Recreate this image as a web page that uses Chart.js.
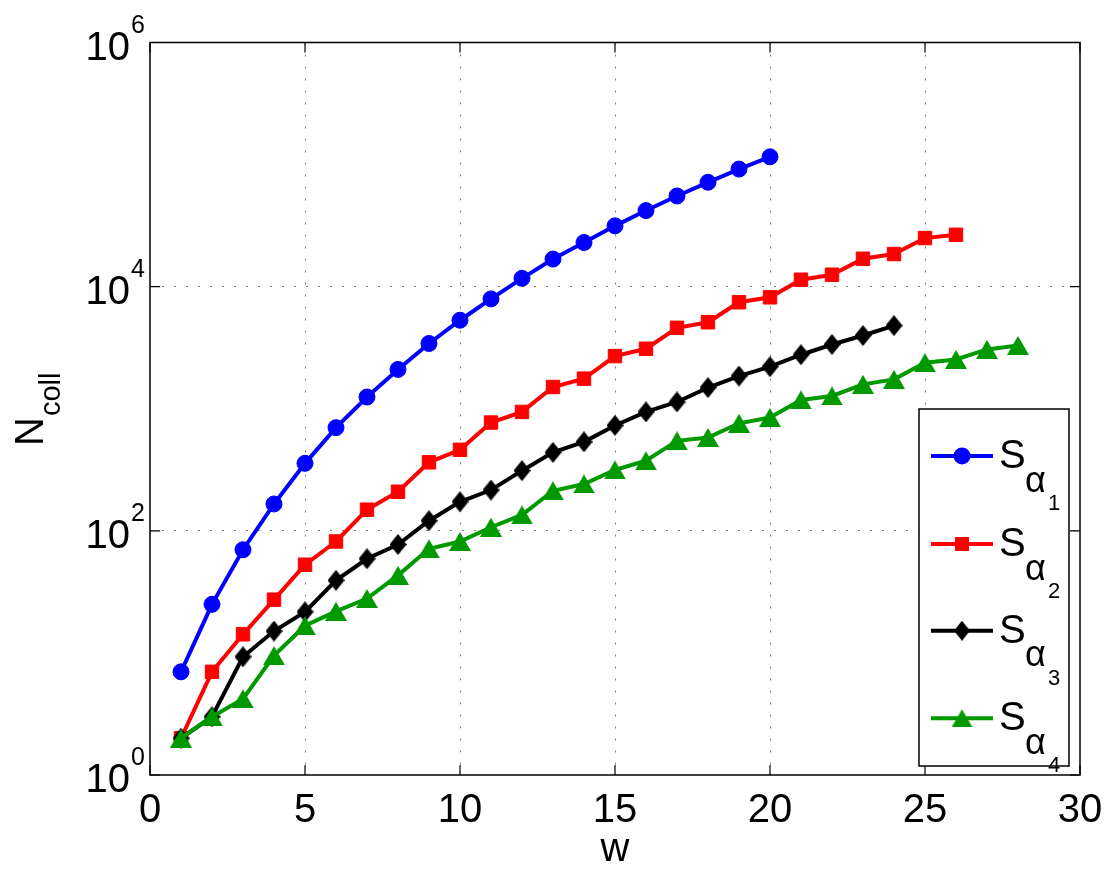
<!DOCTYPE html>
<html>
<head>
<meta charset="utf-8">
<script src="https://cdn.jsdelivr.net/npm/chart.js@4/dist/chart.umd.min.js"></script>
<style>
  html, body { margin: 0; padding: 0; background: #ffffff; }
  canvas { display: block; }
</style>
</head>
<body>
<canvas id="c" width="1111" height="875"></canvas>
<script>
// ---- data ----
const w = [1,2,3,4,5,6,7,8,9,10,11,12,13,14,15,16,17,18,19,20,21,22,23,24,25,26,27,28];
const sAlpha1 = [7, 25, 70, 166, 357, 700, 1248, 2100, 3425, 5310, 7940, 11700, 16830, 23000, 31500, 42000, 55300, 71600, 91900, 115800];
const sAlpha2 = [2, 7, 14.2, 27.3, 52.8, 81.8, 149, 209, 364, 461, 771, 942, 1507, 1765, 2700, 3100, 4600, 5110, 7450, 8180, 11400, 12530, 16930, 18500, 25000, 26600];
const sAlpha3 = [2, 3, 9.3, 15.1, 21.7, 39.3, 59, 77.3, 121, 173, 216, 311, 439, 536, 730, 942, 1137, 1490, 1853, 2210, 2770, 3360, 3980, 4800];
const sAlpha4 = [2, 3, 4.2, 9.5, 16.7, 21.9, 27.9, 43.2, 71.3, 81.8, 107, 135, 213, 242, 315, 375, 546, 582, 760, 848, 1180, 1272, 1585, 1741, 2384, 2536, 3060, 3300];
const seriesNames = ['1', '2', '3', '4'];
const xTickValues = [0, 5, 10, 15, 20, 25, 30];
const yTickExponents = [0, 2, 4, 6];

// ---- styles ----
const colors = ['#0000ff', '#ff0000', '#000000', '#009900'];
const FONT = '"Liberation Sans", Arial, Helvetica, sans-serif';

function makeDiamond(wd, ht, col) {
  const cv = document.createElement('canvas');
  cv.width = wd; cv.height = ht;
  const g = cv.getContext('2d');
  g.fillStyle = col;
  g.beginPath();
  g.moveTo(wd / 2, 0); g.lineTo(wd, ht / 2); g.lineTo(wd / 2, ht); g.lineTo(0, ht / 2);
  g.closePath(); g.fill();
  return cv;
}
function makeTriangle(wd, ht, col) {
  const cv = document.createElement('canvas');
  cv.width = wd; cv.height = ht;
  const g = cv.getContext('2d');
  g.fillStyle = col;
  g.beginPath();
  g.moveTo(wd / 2, 0); g.lineTo(wd, ht); g.lineTo(0, ht);
  g.closePath(); g.fill();
  return cv;
}
const diamondImg = makeDiamond(17, 21, colors[2]);
const triangleImg = makeTriangle(22, 19, colors[3]);
const diamondLeg = makeDiamond(16, 20, colors[2]);
const triangleLeg = makeTriangle(21, 18, colors[3]);

const seriesValues = [sAlpha1, sAlpha2, sAlpha3, sAlpha4];
const pointStyles = ['circle', 'rect', diamondImg, triangleImg];
const pointRadii = [8, 9.5, 10, 10];

const datasets = seriesValues.map((vals, i) => ({
  label: 'S_alpha_' + seriesNames[i],
  data: vals.map((v, k) => ({ x: w[k], y: v })),
  borderColor: colors[i],
  backgroundColor: colors[i],
  borderWidth: 4,
  tension: 0,
  pointStyle: pointStyles[i],
  pointRadius: pointRadii[i],
  pointBackgroundColor: colors[i],
  pointBorderColor: colors[i],
  pointBorderWidth: 1,
  pointHoverRadius: pointRadii[i],
  order: 4 - i,
  clip: 20
}));

const gridColorFn = (ends) => (ctx) => {
  if (ctx.tick && ends.includes(ctx.tick.value)) return 'rgba(0,0,0,0)';
  return 'rgba(70,70,70,0.7)';
};

const decorPlugin = {
  id: 'decor',
  afterDraw(chart) {
    const ctx = chart.ctx;
    const a = chart.chartArea;
    const xs = chart.scales.x, ys = chart.scales.y;
    ctx.save();
    // box
    ctx.strokeStyle = '#000';
    ctx.lineWidth = 1.5;
    ctx.setLineDash([]);
    ctx.strokeRect(a.left, a.top, a.right - a.left, a.bottom - a.top);
    // ticks (inward, all four sides)
    ctx.lineWidth = 1.2;
    ctx.beginPath();
    xTickValues.forEach(v => {
      const px = xs.getPixelForValue(v);
      ctx.moveTo(px, a.bottom); ctx.lineTo(px, a.bottom - 10);
      ctx.moveTo(px, a.top); ctx.lineTo(px, a.top + 10);
    });
    yTickExponents.forEach(e => {
      const py = ys.getPixelForValue(Math.pow(10, e));
      ctx.moveTo(a.left, py); ctx.lineTo(a.left + 10, py);
      ctx.moveTo(a.right, py); ctx.lineTo(a.right - 10, py);
    });
    ctx.stroke();

    // x tick labels
    ctx.fillStyle = '#000';
    ctx.font = '40px ' + FONT;
    ctx.textAlign = 'center';
    ctx.textBaseline = 'alphabetic';
    xTickValues.forEach(v => {
      ctx.fillText(String(v), xs.getPixelForValue(v), a.bottom + 46.5);
    });
    // y tick labels 10^e
    yTickExponents.forEach(e => {
      const py = ys.getPixelForValue(Math.pow(10, e));
      ctx.font = '25px ' + FONT;
      ctx.textAlign = 'right';
      const supW = ctx.measureText(String(e)).width;
      const rightEdge = a.left - 5;
      ctx.fillText(String(e), rightEdge, py - 10);
      ctx.font = '40px ' + FONT;
      ctx.fillText('10', rightEdge - supW - 1, py + 17);
    });

    // x axis title
    ctx.font = '40px ' + FONT;
    ctx.textAlign = 'center';
    ctx.fillText('w', 615, 861);

    // y axis title  N_coll (rotated)
    ctx.save();
    ctx.translate(43, 446);
    ctx.rotate(-Math.PI / 2);
    ctx.textAlign = 'left';
    ctx.font = '40px ' + FONT;
    ctx.fillText('N', 0, 0);
    const nW = ctx.measureText('N').width;
    ctx.font = '29px ' + FONT;
    ctx.fillText('coll', nW + 1, 17);
    ctx.restore();

    // legend
    const lx0 = 919, ly0 = 409, lx1 = 1069, ly1 = 766;
    ctx.fillStyle = '#fff';
    ctx.fillRect(lx0, ly0, lx1 - lx0, ly1 - ly0);
    ctx.strokeStyle = '#000';
    ctx.lineWidth = 1.5;
    ctx.strokeRect(lx0, ly0, lx1 - lx0, ly1 - ly0);
    const rowY = [456, 544, 630.7, 718.3];
    seriesNames.forEach((nm, i) => {
      const y = rowY[i];
      ctx.strokeStyle = colors[i];
      ctx.lineWidth = 4;
      ctx.beginPath();
      ctx.moveTo(931, y); ctx.lineTo(993, y);
      ctx.stroke();
      const mx = 962;
      ctx.fillStyle = colors[i];
      if (i === 0) {
        ctx.beginPath(); ctx.arc(mx, y, 8.5, 0, Math.PI * 2); ctx.fill();
      } else if (i === 1) {
        ctx.fillRect(mx - 7, y - 7, 14, 14);
      } else if (i === 2) {
        ctx.drawImage(diamondLeg, mx - diamondLeg.width / 2, y - diamondLeg.height / 2);
      } else {
        ctx.drawImage(triangleLeg, mx - triangleLeg.width / 2, y - triangleLeg.height / 2);
      }
      ctx.fillStyle = '#000';
      ctx.textAlign = 'left';
      ctx.font = '40px ' + FONT;
      ctx.fillText('S', 999, y + 12);
      ctx.font = '36px ' + FONT;
      ctx.fillText('\u03b1', 1025, y + 35.5);
      ctx.font = '22px ' + FONT;
      ctx.fillText(nm, 1048, y + 54);
    });
    ctx.restore();
  }
};

new Chart(document.getElementById('c'), {
  type: 'line',
  data: { datasets },
  options: {
    responsive: false,
    animation: false,
    devicePixelRatio: 1,
    layout: { padding: { left: 150, right: 31, top: 42.5, bottom: 100 } },
    plugins: { legend: { display: false }, tooltip: { enabled: false }, title: { display: false } },
    scales: {
      x: {
        type: 'linear', min: 0, max: 30,
        ticks: { display: false, stepSize: 5 },
        afterBuildTicks: (s) => { s.ticks = xTickValues.map(v => ({ value: v })); },
        grid: { color: gridColorFn([0, 30]), lineWidth: 1, drawTicks: false },
        border: { display: false, dash: [2, 10] },
        afterFit: (s) => { s.height = 0; }
      },
      y: {
        type: 'logarithmic', min: 1, max: 1e6,
        ticks: { display: false },
        afterBuildTicks: (s) => { s.ticks = yTickExponents.map(e => ({ value: Math.pow(10, e) })); },
        grid: { color: gridColorFn([1, 1e6]), lineWidth: 1, drawTicks: false },
        border: { display: false, dash: [2, 10] },
        afterFit: (s) => { s.width = 0; }
      }
    }
  },
  plugins: [decorPlugin]
});
</script>
</body>
</html>
